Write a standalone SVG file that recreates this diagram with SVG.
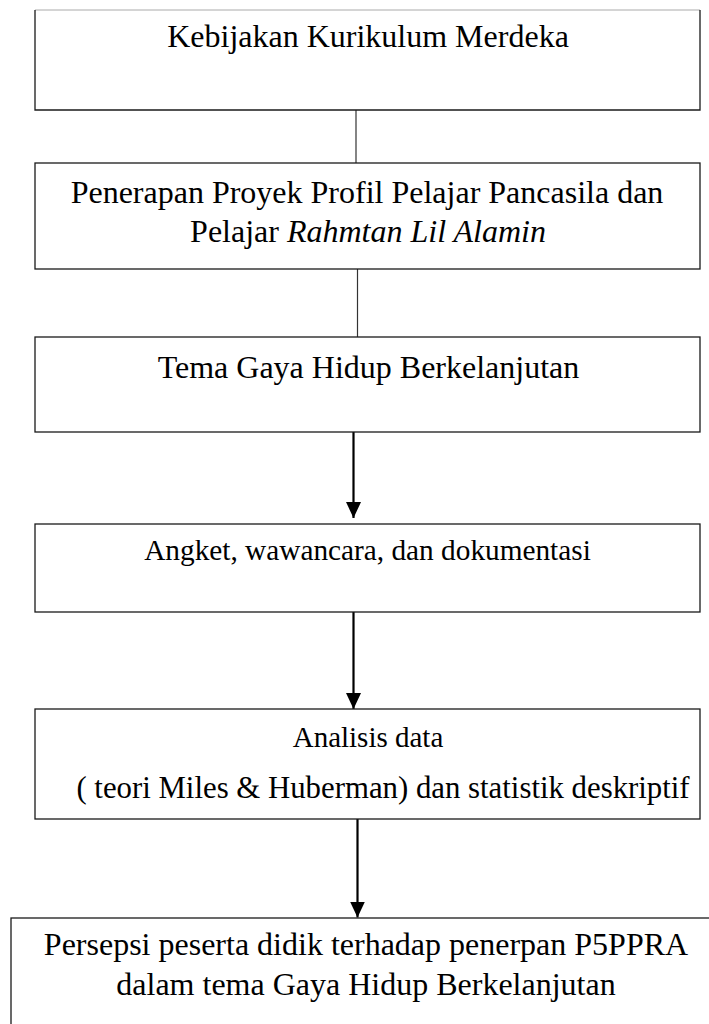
<svg xmlns="http://www.w3.org/2000/svg" width="709" height="1024" viewBox="0 0 709 1024">
<defs>
<style>
.box{fill:#fff;stroke:#1a1a1a;stroke-width:1.3}
.t{font-family:"Liberation Serif","Times New Roman",serif;fill:#000;text-anchor:middle}
.plain{stroke:#333;stroke-width:1.2;fill:none}
.arr{stroke:#000;stroke-width:2.2;fill:none}
</style>
<marker id="ah" viewBox="0 0 16 15" refX="16" refY="7.5" markerUnits="userSpaceOnUse" markerWidth="16" markerHeight="15" orient="auto">
<path d="M0,0 L16,7.5 L0,15 Z" fill="#000"/>
</marker>
</defs>
<rect width="709" height="1024" fill="#fff"/>
<g id="connectors">
<line class="plain" x1="356" y1="110" x2="356" y2="163"/>
<line class="plain" x1="357.5" y1="269" x2="357.5" y2="337"/>
<line class="arr" x1="353.5" y1="432" x2="353.5" y2="518" marker-end="url(#ah)"/>
<line class="arr" x1="353.5" y1="612" x2="353.5" y2="709" marker-end="url(#ah)"/>
<line class="arr" x1="357.5" y1="819" x2="357.5" y2="917.5" marker-end="url(#ah)"/>
</g>
<g id="n1">
<rect class="box" x="35" y="10" width="665" height="100" style="stroke:none"/>
<path d="M35,10 H700" stroke="#aaa" stroke-width="1"/>
<path d="M35,10 V110 H700 V10" fill="none" stroke="#1a1a1a" stroke-width="1.3"/>
<text class="t" x="368" y="47" font-size="32">Kebijakan Kurikulum Merdeka</text>
</g>
<g id="n2">
<rect class="box" x="35" y="163" width="665" height="106"/>
<text class="t" x="367" y="202.5" font-size="32">Penerapan Proyek Profil Pelajar Pancasila dan</text>
<text class="t" x="368" y="242" font-size="32">Pelajar <tspan font-style="italic">Rahmtan Lil Alamin</tspan></text>
</g>
<g id="n3">
<rect class="box" x="35" y="337" width="665" height="95"/>
<text class="t" x="368.5" y="378" font-size="32">Tema Gaya Hidup Berkelanjutan</text>
</g>
<g id="n4">
<rect class="box" x="35" y="524" width="665" height="88"/>
<text class="t" x="367.5" y="560" font-size="29.3">Angket, wawancara, dan dokumentasi</text>
</g>
<g id="n5">
<rect class="box" x="35" y="709" width="665" height="110"/>
<text class="t" x="368" y="747" font-size="29">Analisis data</text>
<text class="t" x="383" y="798" font-size="30.8">( teori Miles &amp; Huberman) dan statistik deskriptif</text>
</g>
<g id="n6">
<rect class="box" x="11" y="918" width="730" height="130"/>
<text class="t" x="366" y="955" font-size="32">Persepsi peserta didik terhadap penerpan P5PPRA</text>
<text class="t" x="366" y="995" font-size="32">dalam tema Gaya Hidup Berkelanjutan</text>
</g>
</svg>
